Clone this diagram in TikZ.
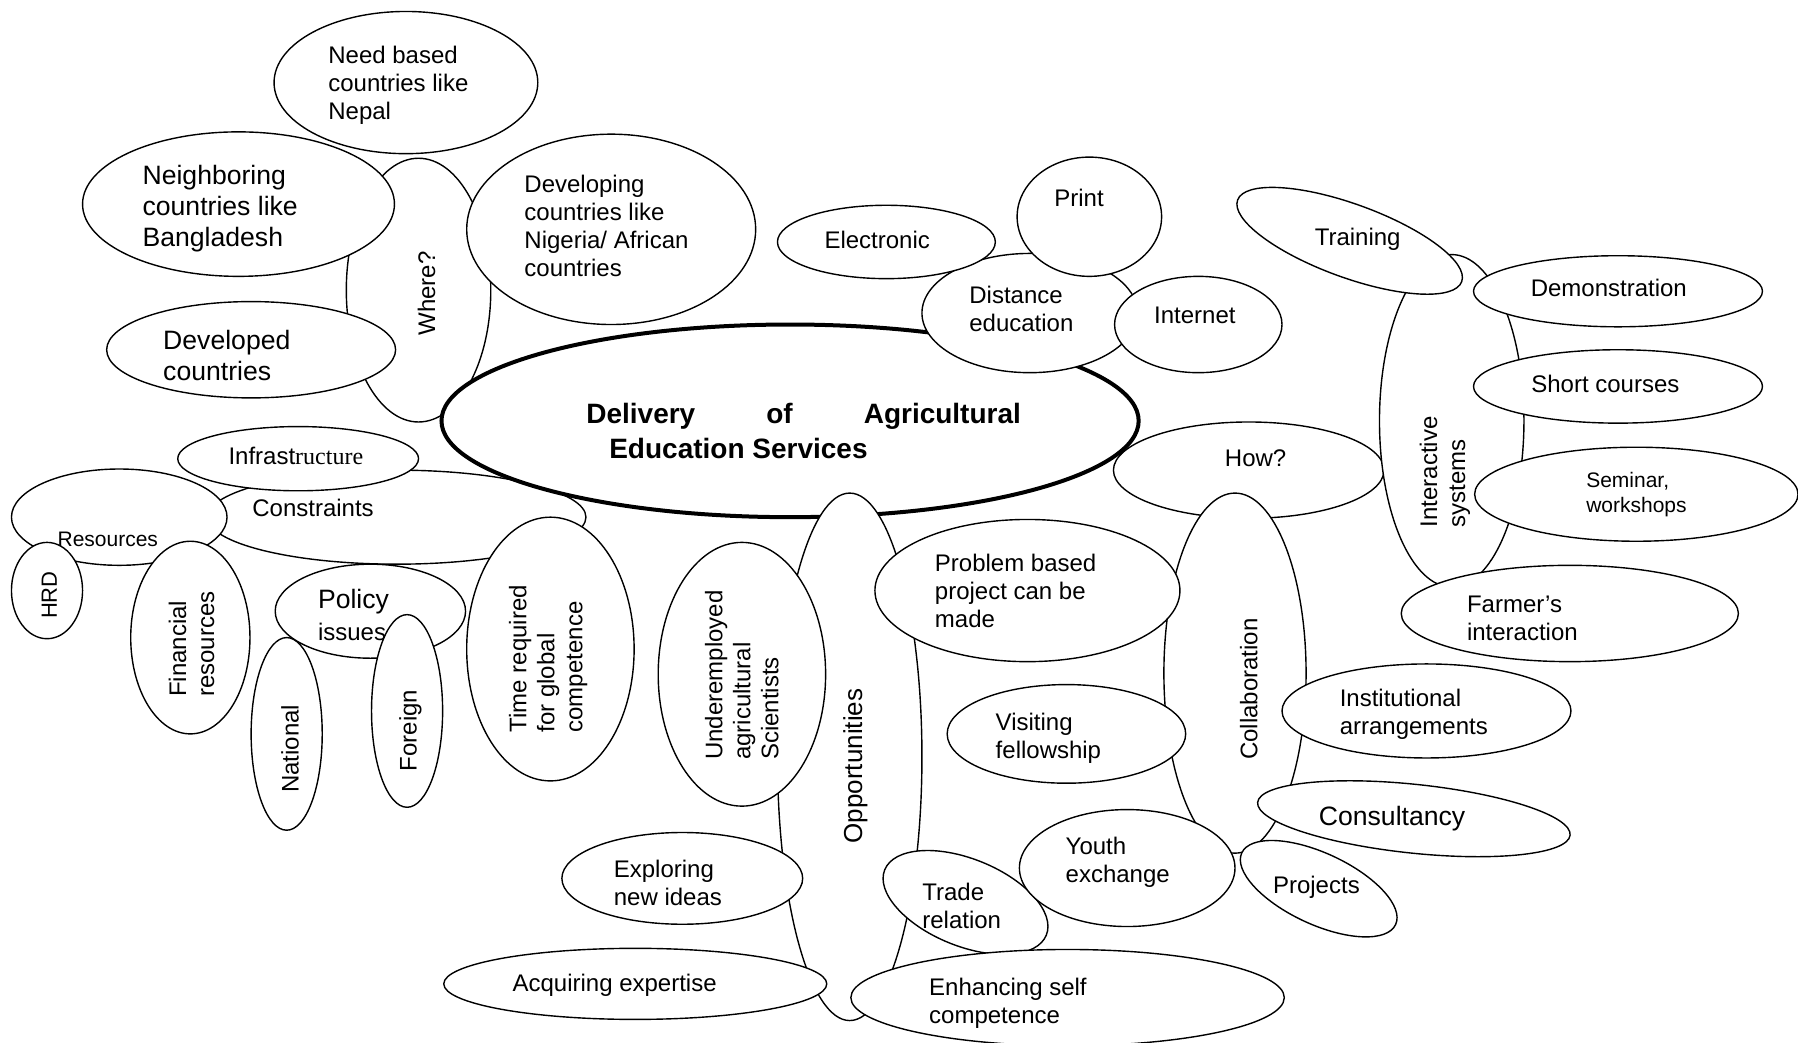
\documentclass[tikz,border=0pt]{standalone}
\usepackage{fontspec}
\setmainfont{Liberation Sans}
\newfontfamily\serifpart{Liberation Serif}

\tikzset{
    bubble/.style={draw, fill=white, line width=.7pt},
    txt/.style={inner sep=0pt, align=left, font=\fontsize{12}{14}\selectfont},
    bigtxt/.style={txt, font=\fontsize{13.3}{15.5}\selectfont},
    smalltxt/.style={txt, font=\fontsize{10.5}{12.6}\selectfont},
    up/.style={rotate=90, anchor=west}
}

\begin{document}
\begin{tikzpicture}[x=.5734pt, y=-.5734pt]
            \fill[white](0, 0)rectangle(1568, 909);
            \useasboundingbox(0, 0)rectangle(1568, 909);
            \filldraw[bubble](365, 253)ellipse(63 and 115);
            \node(where)[txt, rotate=90] at (372, 256){Where?};
            \filldraw[bubble](354, 72)ellipse(115 and 62);
            \node(needbased)[txt, right] at (286, 74){Need based\\countries like\\Nepal};
            \filldraw[bubble](208, 178)ellipse(136 and 63);
            \node(neighboring)[bigtxt, right] at (124, 182){Neighboring\\countries like\\Bangladesh};
            \filldraw[bubble](219, 305)ellipse(126 and 42);
            \node(developed)[bigtxt, right] at (142, 310){Developed\\countries};
            \filldraw[bubble](533, 200)ellipse(126 and 83);
            \node(developing)[txt, right] at (457, 197){Developing\\countries like\\Nigeria/ African\\countries};
            \filldraw[bubble](346, 451)ellipse(165 and 41);
            \node(constraints)[txt] at (273, 443){Constraints};
            \filldraw[bubble](1089, 410)ellipse(118 and 42);
            \node(how)[txt] at (1095, 400){How?};
            \filldraw[bubble, line width=2pt](689, 367)ellipse(304 and 84);
            \node(delivery)[txt, right, font=\fontsize{14}{16}\selectfont\bfseries] at (511, 363){\makebox[217.3pt][s]{Delivery of Agricultural}};
            \node(services)[txt, right, font=\fontsize{14}{16}\selectfont\bfseries] at (531, 391){Education Services};
            \filldraw[bubble](104, 451)ellipse(94 and 42);
            \node(resources)[smalltxt] at (94, 470){Resources};
            \filldraw[bubble](260, 400)ellipse(105 and 28);
            \node(infra)[txt] at (258, 398){Infrast{\serifpart ructure}};
            \filldraw[bubble](41, 515)ellipse(31 and 42);
            \node(hrd)[txt, rotate=90, font=\fontsize{11}{13}\selectfont] at (43, 519){HRD};
            \filldraw[bubble](166, 556)ellipse(52 and 84);
            \node(financial)[txt, up] at (167, 608){Financial\\resources};
            \filldraw[bubble](250, 640)ellipse(31 and 84);
            \node(national)[txt, rotate=90] at (253, 653){National};
            \filldraw[bubble](323, 533)ellipse(83 and 41);
            \node(policy)[bigtxt, right] at (277, 525){Policy};
            \node(issues)[txt, right] at (277, 551){issues};
            \filldraw[bubble](355, 620)ellipse(31 and 84);
            \node(foreign)[txt, rotate=90] at (358, 637){Foreign};
            \filldraw[bubble](480, 566)ellipse(73 and 115);
            \node(time)[txt, up] at (478, 639){Time required\\for global\\competence};
            \filldraw[bubble](741, 660)ellipse(63 and 230);
            \node(opportunities)[txt, rotate=90, font=\fontsize{13}{15}\selectfont] at (746, 668){Opportunities};
            \filldraw[bubble](647, 588)ellipse(73 and 115);
            \node(underemployed)[txt, up] at (647, 663){Underemployed\\agricultural\\Scientists};
            \filldraw[bubble](595, 766)ellipse(105 and 40);
            \node(exploring)[txt, right] at (535, 770){Exploring\\new ideas};
            \filldraw[bubble](554, 858)ellipse(167 and 31);
            \node(acquiring)[txt] at (536, 859){Acquiring expertise};
            \filldraw[bubble](1077, 587)ellipse(62 and 157);
            \node(collaboration)[txt, rotate=90] at (1089, 601){Collaboration};
            \filldraw[bubble](896, 515)ellipse(133 and 62);
            \node(problem)[txt, right] at (815, 515){Problem based\\project can be\\made};
            \filldraw[bubble](930, 640)ellipse(104 and 43);
            \node(visiting)[txt, right] at (868, 644){Visiting\\fellowship};
            \filldraw[bubble, rotate around={-22:(842, 787)}](842, 787)ellipse(76 and 38);
            \node(trade)[txt, right] at (804, 790){Trade\\relation};
            \filldraw[bubble](983, 757)ellipse(94 and 51);
            \node(youth)[txt, right] at (929, 752){Youth\\exchange};
            \filldraw[bubble](931, 870)ellipse(189 and 42);
            \node(enhancing)[txt, right] at (810, 875){Enhancing self\\competence};
            \filldraw[bubble](1244, 620)ellipse(126 and 41);
            \node(institutional)[txt, right] at (1168, 623){Institutional\\arrangements};
            \filldraw[bubble, rotate around={-6:(1233, 714)}](1233, 714)ellipse(137 and 30);
            \node(consultancy)[bigtxt] at (1214, 714){Consultancy};
            \filldraw[bubble, rotate around={-25:(1150, 775)}](1150, 775)ellipse(74 and 31);
            \node(projects)[txt] at (1148, 774){Projects};
            \filldraw[bubble](898, 273)ellipse(94 and 52);
            \node(distance)[txt, right] at (845, 269){Distance\\education};
            \filldraw[bubble](773, 211)ellipse(95 and 32);
            \node(electronic)[txt] at (765, 209){Electronic};
            \filldraw[bubble](950, 189)ellipse(63 and 52);
            \node(print)[txt] at (941, 173){Print};
            \filldraw[bubble](1045, 283)ellipse(73 and 42);
            \node(internet)[txt] at (1042, 275){Internet};
            \filldraw[bubble](1266, 367)ellipse(63 and 145);
            \node(interactive)[txt, up] at (1260, 460){Interactive\\systems};
            \filldraw[bubble, rotate around={-20:(1177, 210)}](1177, 210)ellipse(104 and 32);
            \node(training)[txt] at (1184, 209){Training};
            \filldraw[bubble](1411, 254)ellipse(126 and 31);
            \node(demonstration)[txt] at (1403, 251){Demonstration};
            \filldraw[bubble](1411, 337)ellipse(126 and 32);
            \node(short)[txt] at (1400, 335){Short courses};
            \filldraw[bubble](1427, 431)ellipse(141 and 41);
            \node(seminar)[smalltxt, right] at (1383, 431){Seminar,\\workshops};
            \filldraw[bubble](1369, 535)ellipse(147 and 42);
            \node(farmer)[txt, right] at (1279, 539){Farmer’s\\interaction};
        \end{tikzpicture}
\end{document}
